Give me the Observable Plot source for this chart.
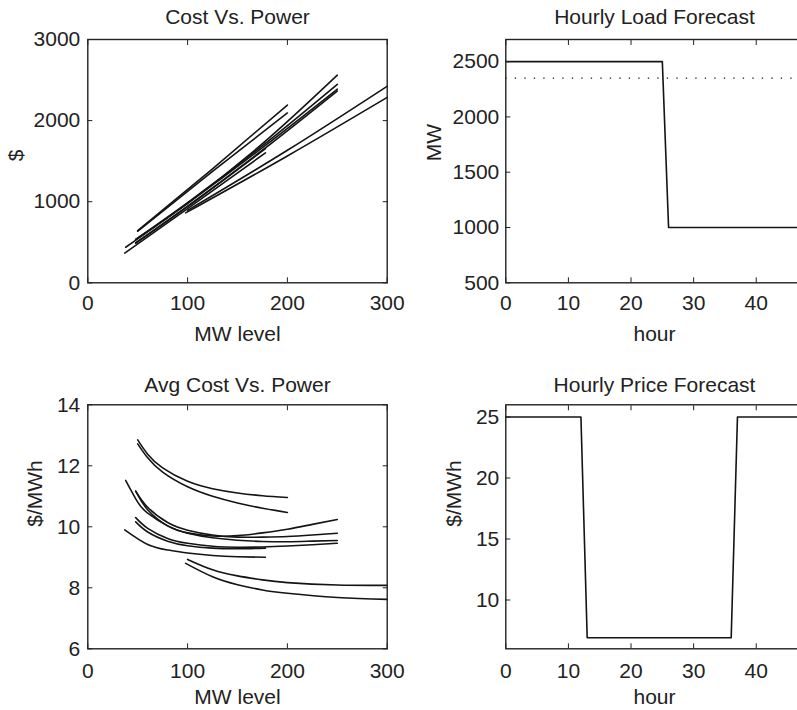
<!DOCTYPE html>
<html><head><meta charset="utf-8">
<script src="https://cdn.jsdelivr.net/npm/d3@7"></script>
<script src="https://cdn.jsdelivr.net/npm/@observablehq/plot@0.6"></script>
<style>
html,body{margin:0;padding:0;background:#fff;overflow:hidden;}
#wrap{position:relative;width:797px;height:710px;overflow:hidden;background:#fff;}
.panel{position:absolute;}
</style></head><body><div id="wrap"></div>
<script>
// ---------- data ----------
const unitNames = ["A","B","C","D1","D2","E1","E2","F","G1","G2"];

// cost curves ($ vs MW)
const costMW = [
  [50,125,200],[50,125,200],[38,100,175,250],[48,100,175,250],[48,100,175,250],
  [48,100,175,250],[48,100,178],[37,100,178],[100,200,300],[98,200,300]
];
const costUSD = [
  [642,1406,2192],[636,1375,2094],[438,979,1666,2388],[536,980,1715,2560],[536,989,1691,2448],
  [494,946,1635,2365],[488,938,1655],[366,914,1602],[893,1634,2424],[862,1564,2286]
];

// average cost curves ($/MWh vs MW)
const avgMW = [
  [50,60,75,100,125,150,175,200],
  [50,60,75,100,125,150,175,200],
  [38,50,60,80,100,125,150,175,200,225,250],
  [48,60,80,100,125,150,175,200,225,250],
  [48,60,80,100,125,150,175,200,225,250],
  [48,60,80,100,125,150,175,200,225,250],
  [48,60,80,100,125,150,178],
  [37,60,80,100,125,150,178],
  [100,125,150,175,200,250,300],
  [98,125,150,175,200,250,300]
];
const avgCost = [
  [12.85,12.38,11.93,11.49,11.25,11.11,11.02,10.96],
  [12.72,12.26,11.79,11.31,11.00,10.78,10.61,10.47],
  [11.52,10.81,10.45,10.03,9.79,9.64,9.56,9.52,9.51,9.53,9.55],
  [11.17,10.56,10.03,9.80,9.70,9.71,9.80,9.92,10.08,10.24],
  [11.17,10.64,10.14,9.89,9.73,9.66,9.66,9.68,9.73,9.79],
  [10.30,9.95,9.62,9.46,9.36,9.33,9.34,9.37,9.41,9.46],
  [10.16,9.83,9.53,9.38,9.30,9.28,9.30],
  [9.90,9.42,9.24,9.14,9.06,9.02,9.00],
  [8.93,8.59,8.39,8.26,8.17,8.09,8.08],
  [8.80,8.36,8.10,7.93,7.82,7.68,7.62]
];

// hourly forecasts
const hours = [0,1,2,3,4,5,6,7,8,9,10,11,12,13,14,15,16,17,18,19,20,21,22,23,24,25,26,27,28,29,30,31,32,33,34,35,36,37,38,39,40,41,42,43,44,45,46,47];
const loadMW = [2500,2500,2500,2500,2500,2500,2500,2500,2500,2500,2500,2500,2500,2500,2500,2500,2500,2500,2500,2500,2500,2500,2500,2500,2500,2500,
  1000,1000,1000,1000,1000,1000,1000,1000,1000,1000,1000,1000,1000,1000,1000,1000,1000,1000,1000,1000,1000,1000];
const reserveLevelMW = 2350;
const priceUSD = [25,25,25,25,25,25,25,25,25,25,25,25,25,
  6.9,6.9,6.9,6.9,6.9,6.9,6.9,6.9,6.9,6.9,6.9,6.9,6.9,6.9,6.9,6.9,6.9,6.9,6.9,6.9,6.9,6.9,6.9,6.9,
  25,25,25,25,25,25,25,25,25,25,25];

// tick labels
const mwTicks = [0,100,200,300];
const costTicks = [0,1000,2000,3000];
const avgTicks = [6,8,10,12,14];
const hourTicks = [0,10,20,30,40];
const loadTicks = [500,1000,1500,2000,2500];
const priceTicks = [10,15,20,25];

// ---------- tables ----------
const costRows = unitNames.flatMap((u,i)=>costMW[i].map((m,j)=>({unit:u, mw:m, v:costUSD[i][j]})));
const avgRows = unitNames.flatMap((u,i)=>avgMW[i].map((m,j)=>({unit:u, mw:m, v:avgCost[i][j]})));
const loadRows = hours.map((h,i)=>({h, v:loadMW[i]}));
const priceRows = hours.map((h,i)=>({h, v:priceUSD[i]}));

const FONT = "'Liberation Sans', Arial, Helvetica, sans-serif";
const INK = "#222";
const LINE = "#141414";

function panel({left, top, width, height, margins, xDomain, xTicks, yDomain, yTicks, lines, title, titleDy, xLabel, xLabelDy, xTickPad, yLabel, yLabelDx, yTickPad}) {
  const svg = Plot.plot({
    width, height,
    marginLeft: margins[0], marginRight: margins[1], marginTop: margins[2], marginBottom: margins[3],
    style: {fontFamily: FONT, fontSize: "21px", color: INK, background: "transparent"},
    x: {domain: xDomain},
    y: {domain: yDomain},
    marks: [
      ...lines,
      Plot.frame({stroke: INK, strokeWidth: 1.4}),
      Plot.axisX({anchor: "bottom", ticks: xTicks, tickSize: -5, tickPadding: xTickPad, label: null, tickFormat: d => String(d)}),
      Plot.axisX({anchor: "top", ticks: xTicks, tickSize: -5, label: null, tickFormat: () => ""}),
      Plot.axisY({anchor: "left", ticks: yTicks, tickSize: -5, tickPadding: yTickPad, label: null, tickFormat: d => String(d)}),
      Plot.axisY({anchor: "right", ticks: yTicks, tickSize: -5, label: null, tickFormat: () => ""}),
      Plot.text([title], {text: d => d, frameAnchor: "top", lineAnchor: "middle", dy: titleDy, fill: INK}),
      Plot.text([xLabel], {text: d => d, frameAnchor: "bottom", lineAnchor: "middle", dy: xLabelDy, fill: INK}),
      Plot.text([yLabel], {text: d => d, frameAnchor: "left", lineAnchor: "middle", dx: yLabelDx, rotate: -90, fill: INK})
    ]
  });
  svg.classList.add("panel");
  svg.style.left = left + "px";
  svg.style.top = top + "px";
  svg.style.overflow = "visible";
  document.getElementById("wrap").appendChild(svg);
}

// Cost Vs. Power
panel({
  left: 0, top: 0, width: 400, height: 360, margins: [87.3, 13.3, 39, 77.7],
  xDomain: [0,300], xTicks: mwTicks, yDomain: [0,3000], yTicks: costTicks,
  lines: [Plot.line(costRows, {x: "mw", y: "v", z: "unit", curve: "natural", stroke: LINE, strokeWidth: 1.6})],
  title: "Cost Vs. Power", titleDy: -22, xLabel: "MW level", xLabelDy: 51.5, xTickPad: 17,
  yLabel: "$", yLabelDx: -71.5, yTickPad: 12.5
});

// Hourly Load Forecast
panel({
  left: 400, top: 0, width: 410, height: 360, margins: [105.3, 7.3, 39, 77.7],
  xDomain: [0,47.5], xTicks: hourTicks, yDomain: [500,2700], yTicks: loadTicks,
  lines: [
    Plot.ruleY([reserveLevelMW], {stroke: LINE, strokeWidth: 1.3, strokeDasharray: "1.3 8.2"}),
    Plot.line(loadRows, {x: "h", y: "v", stroke: LINE, strokeWidth: 1.6})
  ],
  title: "Hourly Load Forecast", titleDy: -22, xLabel: "hour", xLabelDy: 51.5, xTickPad: 17,
  yLabel: "MW", yLabelDx: -71.8, yTickPad: 11.5
});

// Avg Cost Vs. Power
panel({
  left: 0, top: 360, width: 400, height: 350, margins: [87.3, 13.3, 44.3, 61.7],
  xDomain: [0,300], xTicks: mwTicks, yDomain: [6,14], yTicks: avgTicks,
  lines: [Plot.line(avgRows, {x: "mw", y: "v", z: "unit", curve: "natural", stroke: LINE, strokeWidth: 1.6})],
  title: "Avg Cost Vs. Power", titleDy: -20, xLabel: "MW level", xLabelDy: 48.5, xTickPad: 19,
  yLabel: "$/MWh", yLabelDx: -52.3, yTickPad: 12.5
});

// Hourly Price Forecast
panel({
  left: 400, top: 360, width: 410, height: 350, margins: [105.3, 7.3, 44.3, 61.7],
  xDomain: [0,47.5], xTicks: hourTicks, yDomain: [6,26], yTicks: priceTicks,
  lines: [Plot.line(priceRows, {x: "h", y: "v", stroke: LINE, strokeWidth: 1.6})],
  title: "Hourly Price Forecast", titleDy: -20, xLabel: "hour", xLabelDy: 48.5, xTickPad: 19,
  yLabel: "$/MWh", yLabelDx: -51.8, yTickPad: 11.5
});
</script>
</body></html>
